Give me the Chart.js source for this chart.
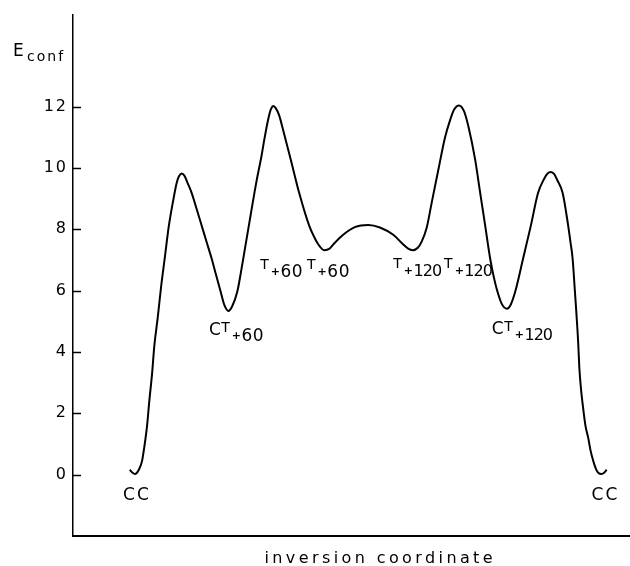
<!DOCTYPE html>
<html><head><meta charset="utf-8">
<script src="https://cdn.jsdelivr.net/npm/chart.js@4"></script>
<style>html,body{margin:0;padding:0;background:#fff;}canvas{display:block;}</style>
</head><body>
<canvas id="c" width="630" height="566"></canvas>
<script>
// ---- data ----
const coordinate = [10.2,10.7,11.1,11.8,12.4,12.8,13.3,13.7,14.2,14.6,15.2,15.8,16.5,17.2,18.0,18.6,19.0,19.5,20.0,20.6,21.3,22.2,23.1,24.0,24.9,25.7,26.5,27.2,27.9,28.6,29.5,30.2,30.9,31.6,32.3,33.0,33.8,34.4,35.0,35.5,36.0,36.4,37.0,37.7,39.1,40.6,42.4,43.3,44.0,45.1,46.0,46.7,48.5,50.6,53.0,55.1,57.5,59.2,60.1,61.0,61.9,62.6,63.5,64.4,65.6,66.8,67.7,68.4,69.3,70.2,71.0,72.2,73.1,74.0,74.9,75.6,76.2,77.0,77.9,78.6,79.4,80.8,82.2,83.5,84.6,85.2,85.8,86.4,86.9,87.9,88.9,89.3,89.7,90.1,90.4,90.7,90.9,91.2,91.6,92.0,92.5,92.9,93.4,93.9,94.3,94.9,95.4,95.8];
const energy = [0.16,0.06,0.02,0.15,0.45,0.9,1.6,2.4,3.3,4.2,5.1,6.1,7.1,8.1,8.95,9.5,9.72,9.82,9.75,9.5,9.19,8.66,8.12,7.58,7.04,6.5,5.97,5.52,5.34,5.5,5.97,6.65,7.4,8.15,8.9,9.62,10.35,10.98,11.55,11.9,12.02,11.95,11.72,11.25,10.27,9.19,8.12,7.75,7.52,7.32,7.36,7.5,7.82,8.07,8.14,8.06,7.82,7.52,7.38,7.32,7.4,7.6,8.05,8.87,9.95,11.0,11.56,11.9,12.04,11.85,11.34,10.27,9.19,8.12,7.04,6.4,5.97,5.56,5.41,5.55,5.97,7.04,8.12,9.19,9.65,9.82,9.87,9.8,9.62,9.19,8.12,7.6,7.04,6.0,5.2,4.3,3.5,2.8,2.15,1.6,1.2,0.8,0.45,0.18,0.06,0.02,0.07,0.16];
const yTickValues = [0, 2, 4, 6, 8, 10, 12];
const yAxisMain = 'E';
const yAxisSub = 'conf';
const xAxisTitle = 'inversion coordinate';
const stateNames = ['CC', 'CT+60', 'T+60T+60', 'T+120T+120', 'CT+120', 'CC'];
const stateX = [11.3, 24.4, 33.6, 57.5, 75.2, 95.4];
const stateY = [-0.83, 4.36, 6.44, 6.47, 4.4, -0.83];

// ---- styling of the state labels ----
const FONT = '"DejaVu Sans", sans-serif';
const partStyle = {
  C:    {size: 17, dy: -5.5, weight: 'normal', gap: 0.5, ls: 0},
  T:    {size: 14, dy: -8.5, weight: 'normal', gap: 2,   ls: 0},
  plus: {size: 11, dy: -2,   weight: 'bold',   gap: 0.5, ls: 0},
  num:  {size: 17, dy: 0,    weight: 'normal', gap: 4,   ls: 0.5},
  num3: {size: 16, dy: 0,    weight: 'normal', gap: 3,   ls: -1}
};
function splitLabel(name) {
  const parts = [];
  const re = /C|T|\+|\d+/g; let m;
  while ((m = re.exec(name)) !== null) {
    const t = m[0];
    if (t === 'C') parts.push(['C', 'C']);
    else if (t === 'T') parts.push(['T', 'T']);
    else if (t === '+') parts.push(['+', 'plus']);
    else parts.push([t, t.length > 2 ? 'num3' : 'num']);
  }
  return parts;
}

const labelPlugin = {
  id: 'labels',
  afterDraw(chart) {
    const ctx = chart.ctx, xs = chart.scales.x, ys = chart.scales.y, ca = chart.chartArea;
    ctx.save();
    ctx.fillStyle = '#000';
    ctx.strokeStyle = '#000';
    // inner tick marks on the y axis
    ctx.lineWidth = 1.5;
    yTickValues.forEach(v => {
      const py = Math.round(ys.getPixelForValue(v)) + 0.5;
      ctx.beginPath(); ctx.moveTo(ca.left, py); ctx.lineTo(ca.left + 8, py); ctx.stroke();
    });
    ctx.textBaseline = 'alphabetic';
    // y axis label E_conf
    ctx.textAlign = 'left';
    ctx.letterSpacing = '0px';
    ctx.font = 'normal 17px ' + FONT;
    ctx.fillText(yAxisMain, ca.left - 60, ca.top + 41);
    ctx.letterSpacing = '2px';
    ctx.font = 'normal 14px ' + FONT;
    ctx.fillText(yAxisSub, ca.left - 46, ca.top + 46);
    // x axis title
    ctx.letterSpacing = '3.4px';
    ctx.font = 'normal 16px ' + FONT;
    ctx.textAlign = 'center';
    ctx.fillText(xAxisTitle, xs.getPixelForValue(54.8) + 2, ca.bottom + 27);
    // state labels
    stateNames.forEach((name, i) => {
      const px = xs.getPixelForValue(stateX[i]);
      const py = ys.getPixelForValue(stateY[i]);
      ctx.textAlign = 'left';
      if (name === 'CC') {
        ctx.letterSpacing = '2px';
        ctx.font = 'normal 17px ' + FONT;
        const w = ctx.measureText(name).width;
        ctx.fillText(name, px - w / 2 + 1, py);
        return;
      }
      let x = px;
      splitLabel(name).forEach(([txt, kind]) => {
        const st = partStyle[kind];
        ctx.letterSpacing = st.ls + 'px';
        ctx.font = st.weight + ' ' + st.size + 'px ' + FONT;
        ctx.fillText(txt, x, py + st.dy);
        x += ctx.measureText(txt).width + st.gap;
      });
    });
    ctx.restore();
  }
};

const spacingPlugin = {
  id: 'spacing',
  beforeDraw(chart) { chart.ctx.letterSpacing = '2px'; },
  afterDatasetsDraw(chart) { chart.ctx.letterSpacing = '0px'; }
};

new Chart(document.getElementById('c'), {
  type: 'line',
  data: {
    datasets: [{
      data: coordinate.map((x, i) => ({x: x, y: energy[i]})),
      borderColor: '#000',
      borderWidth: 2,
      pointRadius: 0,
      fill: false,
      cubicInterpolationMode: 'monotone'
    }]
  },
  options: {
    responsive: false,
    animation: false,
    devicePixelRatio: 1,
    layout: {padding: {top: 12, left: 0, right: 0, bottom: 0}},
    plugins: {legend: {display: false}, tooltip: {enabled: false}},
    scales: {
      x: {
        type: 'linear', min: 0, max: 100,
        ticks: {display: false},
        grid: {display: false, drawTicks: false},
        border: {display: true, color: '#000', width: 2},
        afterFit(s) { s.height = 30; }
      },
      y: {
        type: 'linear', min: -2, max: 15,
        afterBuildTicks(s) { s.ticks = yTickValues.map(v => ({value: v})); },
        ticks: {color: '#000', padding: 5, font: {family: 'DejaVu Sans', size: 16}},
        grid: {display: false, drawTicks: false},
        border: {display: true, color: '#000', width: 1.5},
        afterFit(s) { s.width = 73; }
      }
    }
  },
  plugins: [spacingPlugin, labelPlugin]
});
</script>
</body></html>
